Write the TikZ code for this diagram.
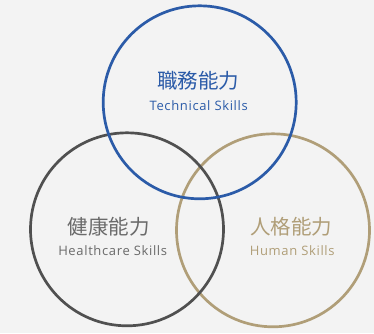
\documentclass[tikz,border=0pt]{standalone}
\usepackage{fontspec}
\setmainfont{Open Sans}
\newfontfamily\cjk{Noto Sans CJK JP}

\definecolor{paper}{HTML}{F3F3F3}
\definecolor{techblue}{HTML}{2B5BA8}
\definecolor{healthgray}{HTML}{505050}
\definecolor{humantan}{HTML}{B09E78}

\begin{document}
\begin{tikzpicture}[x=1pt,y=-1pt,
  ring/.style={line width=2.7pt},
  title/.style={inner sep=0pt,font=\cjk\fontsize{20.5}{24}\selectfont},
  sub/.style={inner sep=0pt,anchor=base,
    font=\addfontfeatures{LetterSpace=5}\fontsize{13}{15}\selectfont}]
\fill[paper] (0,0) rectangle (374,333);
\useasboundingbox (0,0) rectangle (374,333);

% three rings, blue one on top
\draw[ring,humantan] (273,230.3) circle[radius=96.5pt];
\draw[ring,healthgray] (127,229.3) circle[radius=96.5pt];
\draw[ring,techblue] (199.7,102.3) circle[radius=96.5pt];

\node[title,text=techblue] (techjp) at (198.4,80.5) {職務能力};
\node[sub,text=techblue] (techen) at (198.7,110.3) {Technical Skills};

\node[title,text=healthgray!85] (healthjp) at (108.7,226.7) {健康能力};
\node[sub,text=healthgray!85] (healthen) at (112.7,255.7) {Healthcare Skills};

\node[title,text=humantan] (humanjp) at (291.2,227) {人格能力};
\node[sub,text=humantan] (humanen) at (292.2,255.7) {Human Skills};
\end{tikzpicture}
\end{document}
